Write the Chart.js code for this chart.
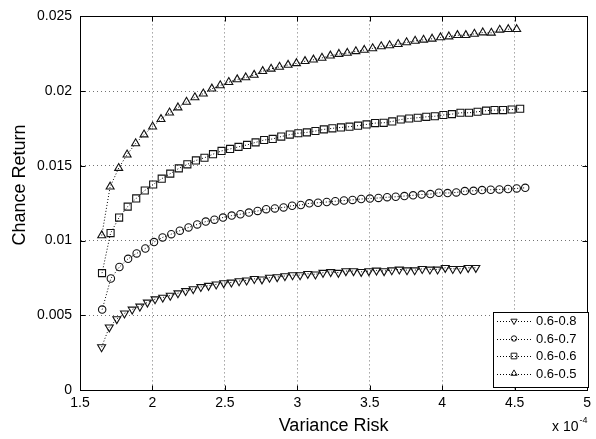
<!DOCTYPE html>
<html>
<head>
<meta charset="utf-8">
<script src="https://cdn.jsdelivr.net/npm/chart.js@4.4.1/dist/chart.umd.min.js"></script>
<style>
    html, body { margin: 0; padding: 0; background: #fff; }
    #wrap { width: 596px; height: 439px; }
</style>
</head>
<body>
<div id="wrap"><canvas id="myChart" width="596" height="439"></canvas></div>
<script>
// series names (legend order)
const seriesLabels = ['0.6-0.8', '0.6-0.7', '0.6-0.6', '0.6-0.5'];

// axis ticks
const xTicks = [1.5, 2, 2.5, 3, 3.5, 4, 4.5, 5];
const xTickLabels = ['1.5', '2', '2.5', '3', '3.5', '4', '4.5', '5'];
const yTicks = [0, 0.005, 0.01, 0.015, 0.02, 0.025];
const yTickLabels = ['0', '0.005', '0.01', '0.015', '0.02', '0.025'];

// 0.6-0.8 (downward triangles)  -- risk in units of 1e-4
const risk08 = [1.649,1.702,1.754,1.807,1.860,1.913,1.965,2.018,2.071,2.123,
    2.176,2.229,2.281,2.334,2.387,2.440,2.492,2.545,2.598,2.650,
    2.703,2.756,2.808,2.861,2.914,2.967,3.019,3.072,3.125,3.177,
    3.230,3.283,3.335,3.388,3.441,3.494,3.546,3.599,3.652,3.704,
    3.757,3.810,3.862,3.915,3.968,4.021,4.073,4.126,4.179,4.232];
const return08 = [0.00287,0.00420,0.00475,0.00513,0.00539,0.00559,0.00586,0.00608,0.00619,0.00632,
    0.00648,0.00663,0.00676,0.00690,0.00698,0.00707,0.00716,0.00720,0.00729,0.00734,
    0.00744,0.00741,0.00752,0.00756,0.00763,0.00769,0.00769,0.00778,0.00774,0.00785,
    0.00790,0.00785,0.00796,0.00796,0.00791,0.00796,0.00800,0.00796,0.00802,0.00807,
    0.00802,0.00802,0.00811,0.00807,0.00807,0.00818,0.00811,0.00811,0.00818,0.00818];

// 0.6-0.7 (circles)
const risk07 = [1.653,1.713,1.772,1.832,1.891,1.951,2.011,2.070,2.130,2.189,
    2.249,2.309,2.368,2.428,2.487,2.547,2.607,2.666,2.726,2.785,
    2.845,2.905,2.964,3.024,3.083,3.143,3.203,3.262,3.322,3.381,
    3.441,3.501,3.560,3.620,3.679,3.739,3.799,3.858,3.918,3.977,
    4.037,4.097,4.156,4.216,4.275,4.335,4.395,4.454,4.514,4.573];
const return07 = [0.00538,0.00746,0.00823,0.00878,0.00914,0.00947,0.00990,0.01021,0.01043,0.01066,
    0.01088,0.01108,0.01127,0.01140,0.01154,0.01167,0.01176,0.01187,0.01198,0.01210,
    0.01215,0.01222,0.01233,0.01238,0.01249,0.01253,0.01258,0.01263,0.01268,0.01272,
    0.01278,0.01281,0.01285,0.01290,0.01293,0.01298,0.01303,0.01308,0.01311,0.01320,
    0.01318,0.01322,0.01331,0.01333,0.01338,0.01340,0.01342,0.01345,0.01349,0.01353];

// 0.6-0.6 (squares)
const risk06 = [1.652,1.711,1.770,1.829,1.888,1.947,2.005,2.064,2.123,2.182,
    2.241,2.300,2.359,2.418,2.477,2.536,2.594,2.653,2.712,2.771,
    2.830,2.889,2.948,3.007,3.066,3.125,3.183,3.242,3.301,3.360,
    3.419,3.478,3.537,3.596,3.655,3.714,3.772,3.831,3.890,3.949,
    4.008,4.067,4.126,4.185,4.244,4.303,4.361,4.420,4.479,4.538];
const return06 = [0.00782,0.01050,0.01154,0.01227,0.01282,0.01335,0.01375,0.01414,0.01448,0.01483,
    0.01510,0.01536,0.01554,0.01578,0.01600,0.01613,0.01627,0.01640,0.01657,0.01673,
    0.01680,0.01696,0.01709,0.01718,0.01724,0.01733,0.01744,0.01751,0.01757,0.01762,
    0.01769,0.01777,0.01786,0.01788,0.01797,0.01810,0.01817,0.01822,0.01828,0.01832,
    0.01840,0.01846,0.01855,0.01855,0.01862,0.01869,0.01873,0.01873,0.01877,0.01882];

// 0.6-0.5 (upward triangles)
const risk05 = [1.650,1.708,1.767,1.825,1.884,1.942,2.001,2.059,2.118,2.176,
    2.235,2.293,2.351,2.410,2.468,2.527,2.585,2.644,2.702,2.761,
    2.819,2.877,2.936,2.994,3.053,3.111,3.170,3.228,3.287,3.345,
    3.404,3.462,3.520,3.579,3.637,3.696,3.754,3.813,3.871,3.930,
    3.988,4.046,4.105,4.163,4.222,4.280,4.339,4.397,4.456,4.514];
const return05 = [0.01034,0.01360,0.01485,0.01575,0.01650,0.01709,0.01762,0.01812,0.01856,0.01890,
    0.01928,0.01958,0.01983,0.02016,0.02038,0.02060,0.02078,0.02091,0.02108,0.02133,
    0.02149,0.02162,0.02175,0.02186,0.02200,0.02210,0.02222,0.02237,0.02248,0.02255,
    0.02266,0.02275,0.02286,0.02299,0.02306,0.02314,0.02326,0.02336,0.02343,0.02350,
    0.02359,0.02365,0.02374,0.02374,0.02383,0.02392,0.02390,0.02410,0.02414,0.02414];

const FONT = "'Liberation Sans', Arial, sans-serif";

// marker styles per series (same order as seriesLabels)
const markers = [
    { style: 'triangle', rotation: 180, radius: 4.6 },
    { style: 'circle', rotation: 0, radius: 3.7 },
    { style: 'rect', rotation: 0, radius: 5 },
    { style: 'triangle', rotation: 0, radius: 4.6 }
];

function makeSet(i, xs, ys) {
    return {
        label: seriesLabels[i],
        data: xs.map((x, k) => ({ x: x, y: ys[k] })),
        showLine: true,
        borderColor: '#000',
        borderWidth: 1,
        borderDash: [1, 2],
        pointStyle: markers[i].style,
        pointRotation: markers[i].rotation,
        pointRadius: markers[i].radius,
        pointHoverRadius: markers[i].radius,
        pointBorderColor: '#111',
        pointBackgroundColor: 'rgba(0,0,0,0)',
        pointBorderWidth: 1.1,
        tension: 0
    };
}

// box around the axes, inward ticks, y title, legend and exponent label
const matlabLook = {
    id: 'matlabLook',
    afterDraw(chart) {
        const ctx = chart.ctx;
        const a = chart.chartArea;
        const xs = chart.scales.x, ys = chart.scales.y;
        const L = Math.round(a.left) + 0.5, R = Math.round(a.right) + 0.5;
        const T = Math.round(a.top) + 0.5, B = Math.round(a.bottom) + 0.5;
        ctx.save();
        ctx.strokeStyle = '#000';
        ctx.lineWidth = 1;
        ctx.strokeRect(L, T, R - L, B - T);
        ctx.beginPath();
        xTicks.forEach(v => {
            const px = Math.round(xs.getPixelForValue(v)) + 0.5;
            ctx.moveTo(px, B); ctx.lineTo(px, B - 5);
            ctx.moveTo(px, T); ctx.lineTo(px, T + 5);
        });
        yTicks.forEach(v => {
            const py = Math.round(ys.getPixelForValue(v)) + 0.5;
            ctx.moveTo(L, py); ctx.lineTo(L + 5, py);
            ctx.moveTo(R, py); ctx.lineTo(R - 5, py);
        });
        ctx.stroke();

        // y axis title
        ctx.save();
        ctx.translate(20, 185);
        ctx.rotate(-Math.PI / 2);
        ctx.font = '18px ' + FONT;
        ctx.fillStyle = '#000';
        ctx.textAlign = 'center';
        ctx.textBaseline = 'middle';
        ctx.fillText('Chance Return', 0, 0);
        ctx.restore();

        // legend
        const bx = 493.5, by = 312.5, bw = 95, bh = 75;
        ctx.fillStyle = '#fff';
        ctx.fillRect(bx, by, bw, bh);
        ctx.strokeRect(bx, by, bw, bh);
        ctx.font = '13px ' + FONT;
        ctx.textBaseline = 'middle';
        ctx.textAlign = 'left';
        seriesLabels.forEach((lab, i) => {
            const y = 321 + i * 17.5;
            ctx.save();
            ctx.setLineDash([1, 2]);
            ctx.strokeStyle = '#000';
            ctx.beginPath();
            ctx.moveTo(497, Math.round(y) + 0.5);
            ctx.lineTo(532, Math.round(y) + 0.5);
            ctx.stroke();
            ctx.restore();
            ctx.strokeStyle = '#1a1a1a';
            ctx.fillStyle = 'rgba(0,0,0,0)';
            Chart.helpers.drawPoint(ctx, {
                pointStyle: markers[i].style,
                rotation: markers[i].rotation,
                radius: markers[i].radius - 1,
                borderWidth: 1
            }, 514, y);
            ctx.fillStyle = '#000';
            ctx.fillText(lab, 536, y + 0.5);
        });

        // exponent of the x axis
        ctx.fillStyle = '#000';
        ctx.textBaseline = 'alphabetic';
        ctx.font = '14px ' + FONT;
        ctx.fillText('x 10', 552, 431);
        const w = ctx.measureText('x 10').width;
        ctx.font = '9px ' + FONT;
        ctx.fillText('-4', 552 + w + 1, 423);
        ctx.restore();
    }
};

const ctx = document.getElementById('myChart').getContext('2d');
const chart = new Chart(ctx, {
    type: 'scatter',
    data: {
        datasets: [
            makeSet(0, risk08, return08),
            makeSet(1, risk07, return07),
            makeSet(2, risk06, return06),
            makeSet(3, risk05, return05)
        ]
    },
    options: {
        responsive: false,
        animation: false,
        devicePixelRatio: 1,
        layout: { padding: { top: 13, right: 7, left: 0, bottom: 0 } },
        plugins: {
            legend: { display: false },
            tooltip: { enabled: false }
        },
        scales: {
            x: {
                type: 'linear',
                min: 1.5,
                max: 5,
                afterBuildTicks: s => { s.ticks = xTicks.map(v => ({ value: v })); },
                afterFit: s => { s.height = 49; },
                ticks: {
                    callback: (v, i) => xTickLabels[i],
                    autoSkip: false,
                    maxRotation: 0,
                    padding: 5,
                    color: '#000',
                    font: { family: FONT, size: 14 }
                },
                grid: { color: 'rgba(0,0,0,0.55)', drawTicks: false, lineWidth: 1 },
                border: { display: true, color: '#000', dash: [1, 3] },
                title: {
                    display: true,
                    text: 'Variance Risk',
                    color: '#000',
                    font: { family: FONT, size: 18 },
                    padding: { top: 0, bottom: 2 }
                }
            },
            y: {
                type: 'linear',
                min: 0,
                max: 0.025,
                afterBuildTicks: s => { s.ticks = yTicks.map(v => ({ value: v })); },
                afterFit: s => { s.width = 80; },
                ticks: {
                    callback: (v, i) => yTickLabels[i],
                    autoSkip: false,
                    padding: 8,
                    color: '#000',
                    font: { family: FONT, size: 14 }
                },
                grid: { color: 'rgba(0,0,0,0.55)', drawTicks: false, lineWidth: 1 },
                border: { display: true, color: '#000', dash: [1, 3] },
                title: { display: false }
            }
        }
    },
    plugins: [matlabLook]
});
</script>
</body>
</html>
